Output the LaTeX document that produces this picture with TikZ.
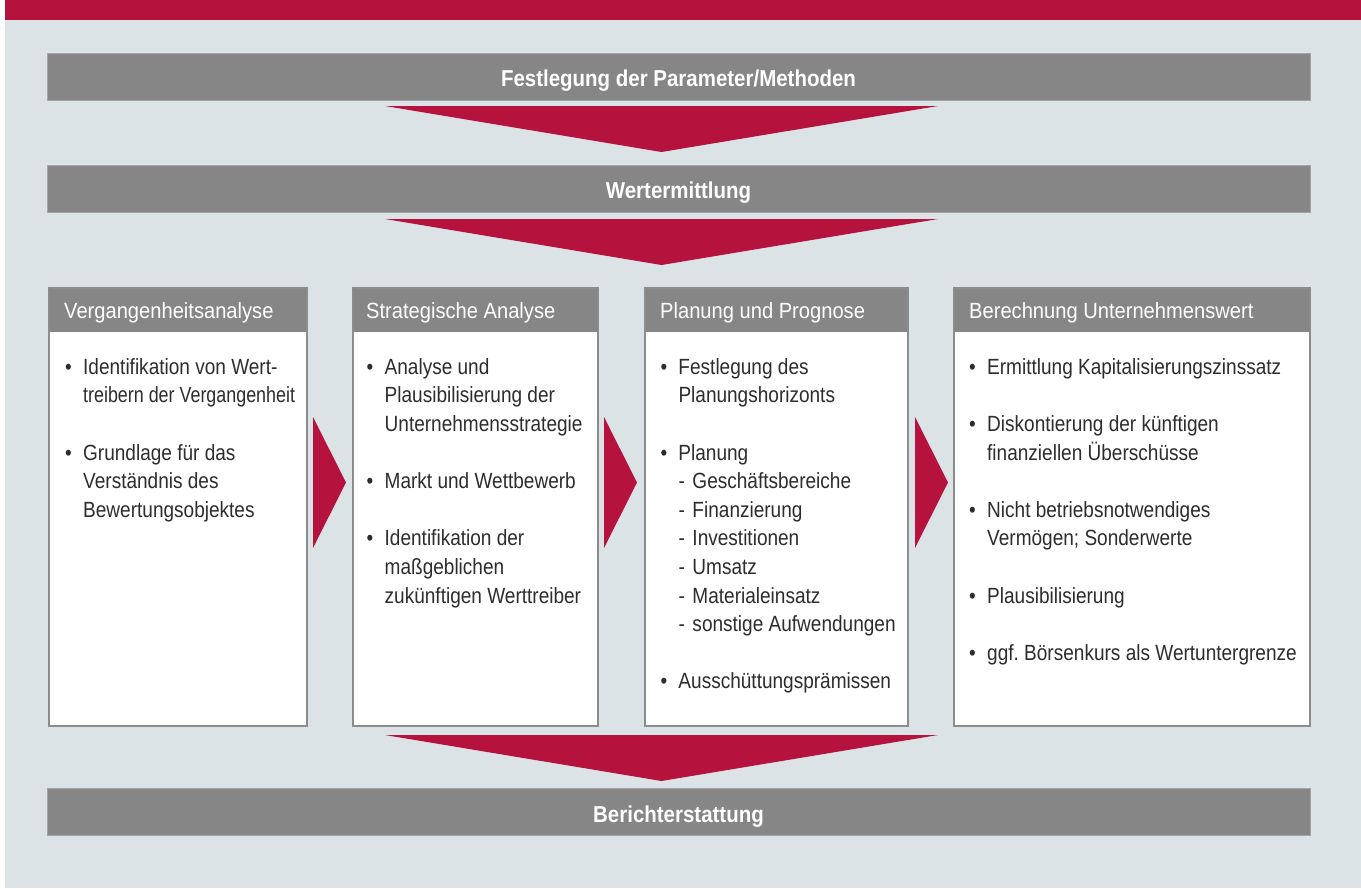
\documentclass[tikz,border=0pt]{standalone}
\usepackage{fontspec}
\setmainfont{Liberation Sans}[FakeStretch=0.865]
\newfontfamily\headfont{Liberation Sans}[FakeStretch=0.915]
\newfontfamily\barfont{Liberation Sans}[FakeStretch=0.89]
\frenchspacing
\definecolor{bred}{RGB}{181,18,62}
\definecolor{bgrey}{RGB}{133,134,133}
\definecolor{bglight}{RGB}{220,227,230}
\definecolor{btext}{RGB}{45,45,45}
\definecolor{bborder}{RGB}{140,140,140}
\tikzset{
 barbox/.style={fill=bgrey, draw=bgrey!75!white, line width=0.8pt, inner sep=0pt, minimum width=1263pt, minimum height=47pt},
 bartext/.style={text=white, font=\barfont\bfseries\fontsize{23}{28}\selectfont, inner sep=0pt, anchor=base},
 colbox/.style={fill=white, draw=bborder, line width=1.2pt, inner sep=0pt, anchor=north west},
 headbox/.style={fill=bgrey, inner sep=0pt, anchor=north west},
 headtext/.style={text=white, font=\headfont\fontsize{22}{28}\selectfont, inner sep=0pt, anchor=base west},
 coltext/.style={text=btext, font=\fontsize{22}{28.6}\selectfont\frenchspacing, inner sep=0pt, anchor=north west},
 redarrow/.style={fill=bred, draw=none},
}
\newcommand{\bu}{\textbullet}
\newcommand{\da}{\makebox[14pt][l]{-}}
\begin{document}
\begin{tikzpicture}[x=1pt,y=-1pt]
\useasboundingbox (0,0) rectangle (1361,889);
\fill[white] (0,0) rectangle (1361,889);
\fill[bglight] (5,20) rectangle (1361,888);
\fill[bred] (5,0) rectangle (1361,20);

% bars
\node[barbox] (b1) at (678.5,76.5) {};
\node[bartext] (b1t) at (678.5,86.5) {Festlegung der Parameter/Methoden};
\node[barbox] (b2) at (678.5,188.5) {};
\node[bartext] (b2t) at (678.5,198.5) {Wertermittlung};
\node[barbox] (b3) at (678.5,812) {};
\node[bartext] (b3t) at (678.5,822) {Berichterstattung};

% down arrows
\fill[redarrow] (385,106) -- (938,106) -- (661.5,152) -- cycle;
\fill[redarrow] (385,219) -- (938,219) -- (661.5,265) -- cycle;
\fill[redarrow] (385,735) -- (938,735) -- (661.5,781) -- cycle;

% column boxes
\node[colbox, minimum width=257pt, minimum height=437pt] (c1) at (49,288) {};
\node[colbox, minimum width=244pt, minimum height=437pt] (c2) at (353,288) {};
\node[colbox, minimum width=262pt, minimum height=437pt] (c3) at (645,288) {};
\node[colbox, minimum width=355pt, minimum height=437pt] (c4) at (954,288) {};

\node[headbox, minimum width=257pt, minimum height=44pt] (h1) at (c1.north west) {};
\node[headbox, minimum width=244pt, minimum height=44pt] (h2) at (c2.north west) {};
\node[headbox, minimum width=262pt, minimum height=44pt] (h3) at (c3.north west) {};
\node[headbox, minimum width=355pt, minimum height=44pt] (h4) at (c4.north west) {};
\draw[bborder, line width=1.2pt] (c1.north west) rectangle (c1.south east);
\draw[bborder, line width=1.2pt] (c2.north west) rectangle (c2.south east);
\draw[bborder, line width=1.2pt] (c3.north west) rectangle (c3.south east);
\draw[bborder, line width=1.2pt] (c4.north west) rectangle (c4.south east);

\node[headtext] (h1t) at (64,318) {Vergangenheitsanalyse};
\node[headtext] (h2t) at (366,318) {Strategische Analyse};
\node[headtext] (h3t) at (660,318) {Planung und Prognose};
\node[headtext] (h4t) at (969,318) {Berechnung Unternehmenswert};

% right arrows
\fill[redarrow] (313,417) -- (346,482.5) -- (313,548) -- cycle;
\fill[redarrow] (604,417) -- (637,482.5) -- (604,548) -- cycle;
\fill[redarrow] (915,417) -- (948,482.5) -- (915,548) -- cycle;

% column texts
\node[coltext] (t1) at (65,354) {\begin{tabular}{@{}p{18pt}@{}l@{}}
\bu & Identifikation von Wert-\\
 & \scalebox{0.94}[1]{treibern der Vergangenheit}\\
 & \\
\bu & Grundlage für das\\
 & Verständnis des\\
 & Bewertungsobjektes
\end{tabular}};

\node[coltext] (t2) at (366.5,354) {\begin{tabular}{@{}p{18pt}@{}l@{}}
\bu & Analyse und\\
 & Plausibilisierung der\\
 & Unternehmensstrategie\\
 & \\
\bu & Markt und Wettbewerb\\
 & \\
\bu & Identifikation der\\
 & maßgeblichen\\
 & zukünftigen Werttreiber
\end{tabular}};

\node[coltext] (t3) at (660.3,354) {\begin{tabular}{@{}p{18pt}@{}l@{}}
\bu & Festlegung des\\
 & Planungshorizonts\\
 & \\
\bu & Planung\\
 & \da Geschäftsbereiche\\
 & \da Finanzierung\\
 & \da Investitionen\\
 & \da Umsatz\\
 & \da Materialeinsatz\\
 & \da sonstige Aufwendungen\\
 & \\
\bu & Ausschüttungsprämissen
\end{tabular}};

\node[coltext] (t4) at (969,354) {\begin{tabular}{@{}p{18pt}@{}l@{}}
\bu & Ermittlung Kapitalisierungszinssatz\\
 & \\
\bu & Diskontierung der künftigen\\
 & finanziellen Überschüsse\\
 & \\
\bu & Nicht betriebsnotwendiges\\
 & Vermögen; Sonderwerte\\
 & \\
\bu & Plausibilisierung\\
 & \\
\bu & ggf. Börsenkurs als Wertuntergrenze
\end{tabular}};
\end{tikzpicture}
\end{document}
